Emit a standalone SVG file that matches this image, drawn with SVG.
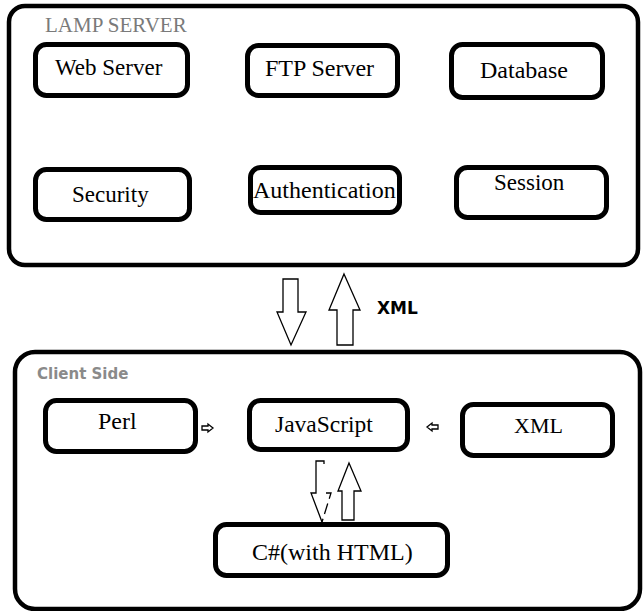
<svg xmlns="http://www.w3.org/2000/svg" width="644" height="611" viewBox="0 0 644 611">
<style>
.frame{fill:none;stroke:#000;stroke-width:4.5}
.box{fill:#fff;stroke:#000;stroke-width:5}
.lbl{font-family:Liberation Serif,Tinos,Times New Roman,DejaVu Serif,serif;font-size:23px;fill:#000}
.arr{fill:#fff;stroke:#000;stroke-width:1.3;stroke-linejoin:miter}
.ln{fill:none;stroke:#000;stroke-width:1.3}
</style>
<rect width="644" height="611" fill="#fff"/>
<g id="lamp-server">
<rect class="frame" x="9" y="6" width="629" height="259" rx="16"/>
<text class="lbl" x="45" y="32" font-size="21" fill="#7a7a7a" style="fill:#7a7a7a;font-size:21px">LAMP SERVER</text>
</g>
<g id="web-server"><rect class="box" x="35.5" y="44.5" width="152" height="51" rx="11"/><text class="lbl" x="55" y="75">Web Server</text></g>
<g id="ftp-server"><rect class="box" x="247.5" y="45.5" width="150" height="50" rx="11"/><text class="lbl" x="265" y="76" style="font-size:24px">FTP Server</text></g>
<g id="database"><rect class="box" x="451.5" y="44.5" width="151" height="53" rx="11"/><text class="lbl" x="480" y="78" style="font-size:24px">Database</text></g>
<g id="security"><rect class="box" x="35.5" y="169.5" width="154" height="50" rx="11"/><text class="lbl" x="72" y="202">Security</text></g>
<g id="authentication"><rect class="box" x="250.5" y="167.5" width="149" height="45" rx="10"/><text class="lbl" x="253" y="198" style="font-size:24px">Authentication</text></g>
<g id="session"><rect class="box" x="456.5" y="167.5" width="150" height="50" rx="11"/><text class="lbl" x="494" y="190">Session</text></g>
<g id="client-side">
<rect class="frame" x="15" y="352" width="625" height="257" rx="20"/>
<text x="37" y="379" font-family="DejaVu Sans, sans-serif" font-weight="bold" font-size="15" fill="#8a8a8a">Client Side</text>
</g>
<g id="perl"><rect class="box" x="45.5" y="400.5" width="150" height="51" rx="11"/><text class="lbl" x="98" y="429" style="font-size:24px">Perl</text></g>
<g id="javascript"><rect class="box" x="249.5" y="400.5" width="158" height="49" rx="11"/><text class="lbl" x="275" y="432" style="font-size:23.5px">JavaScript</text></g>
<g id="xml"><rect class="box" x="462.5" y="404.5" width="150" height="51" rx="11"/><text class="lbl" x="514" y="433" style="font-size:22px">XML</text></g>
<g id="csharp"><rect class="box" x="215.5" y="524.5" width="232" height="51" rx="11"/><text class="lbl" x="252" y="560" style="font-size:24px">C#(with HTML)</text></g>
<g id="connectors">
<polygon class="arr" points="283,279 298,279 298,312 306,312 291,345 277,312 283,312"/>
<polygon class="arr" points="344,274 360,310 353,310 353,345 337,345 337,310 329,310"/>
<text x="377" y="314" font-family="DejaVu Sans, sans-serif" font-weight="bold" font-size="17" fill="#000">XML</text>
<polygon class="arr" points="202,426 208,426 208,424 213,428 208,432 208,430 202,430" stroke-width="1"/>
<polygon class="arr" points="438,425 432,425 432,423 427,427 432,431 432,429 438,429" stroke-width="1"/>
<path class="ln" d="M324,464 V461 H316 V493 H311 L322,522"/>
<path class="ln" d="M326,493 H331 L322,522" stroke-dasharray="11 5"/>
<polygon class="arr" points="349,463 361,491 354,491 354,520 342,520 342,491 338,491"/>
</g>
</svg>
